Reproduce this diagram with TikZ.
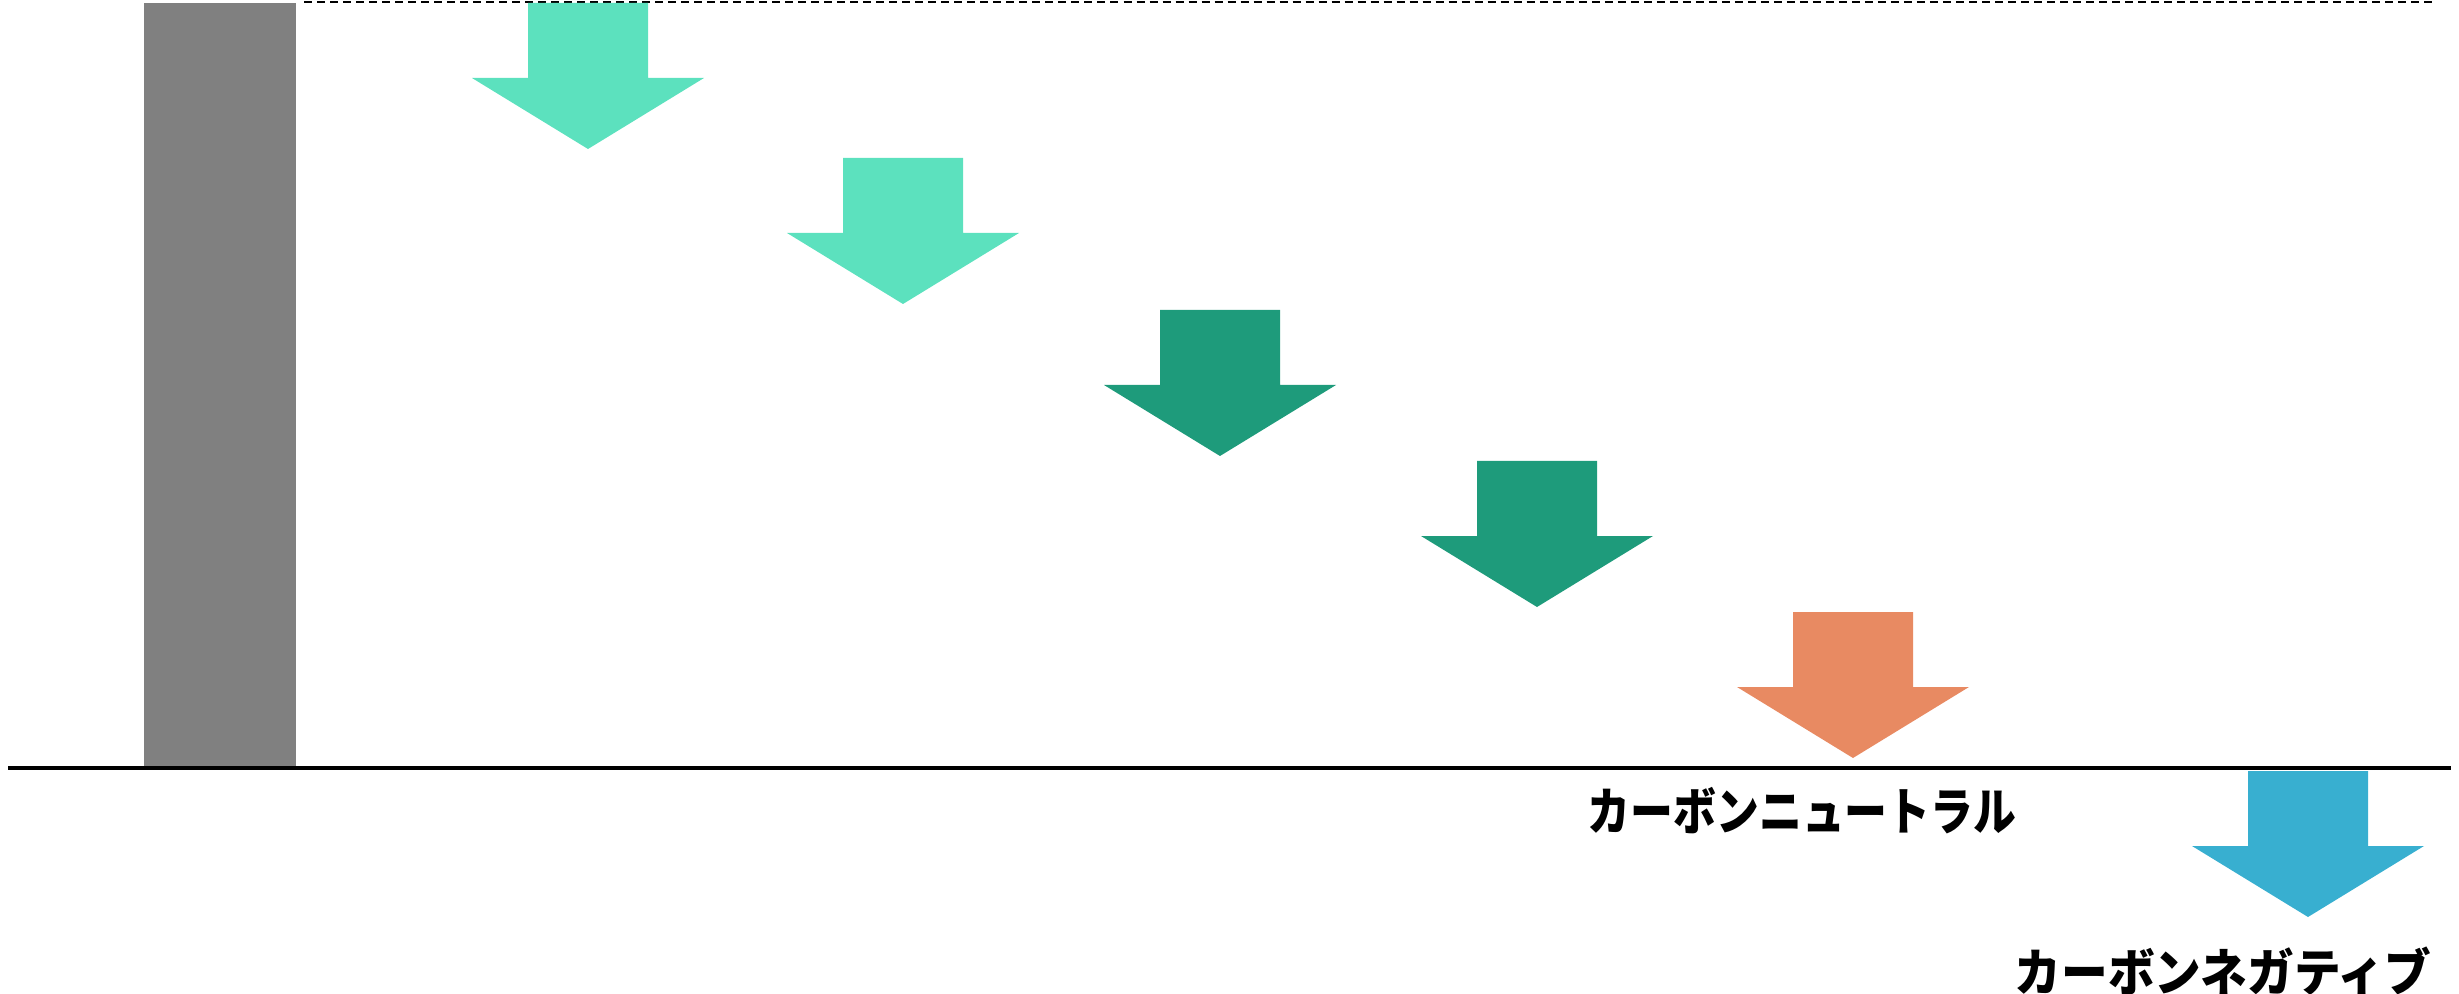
\documentclass[tikz,border=0pt]{standalone}
\usepackage{fontspec}
\newfontfamily\jpfont{Noto Sans CJK JP}
\definecolor{lightgreen}{RGB}{92,225,190}
\definecolor{darkgreen}{RGB}{30,155,123}
\definecolor{orangearrow}{RGB}{232,138,98}
\definecolor{bluearrow}{RGB}{56,175,208}
\definecolor{barfill}{RGB}{128,128,128}
\begin{document}
\begin{tikzpicture}[x=0.01cm,y=-0.01cm,
  label text/.style={font=\jpfont\bfseries\fontsize{14.5}{16}\selectfont, inner sep=0pt, xscale=0.84, transform shape}]
\useasboundingbox (0,0) rectangle (2459,994);
% gray bar
\fill[barfill] (144,3) rectangle (296,768);
% dashed reference line
\coordinate (dl) at (304,2);
\coordinate (dr) at (2434,2);
\draw[line width=0.8pt, dash pattern=on 0.08cm off 0.05cm] (dl) -- (dr);
% arrows
\foreach \cx/\ty/\col in {588/3/lightgreen, 903/158/lightgreen, 1220/310/darkgreen, 1537/461/darkgreen, 1853/612/orangearrow, 2308/771/bluearrow}{
  \fill[\col] (\cx-60,\ty) -- (\cx+60,\ty) -- (\cx+60,\ty+75) -- (\cx+116,\ty+75)
     -- (\cx,\ty+146) -- (\cx-116,\ty+75) -- (\cx-60,\ty+75) -- cycle;
}
% baseline
\coordinate (bl) at (8,768);
\coordinate (br) at (2451,768);
\draw[line width=1.3pt] (bl) -- (br);
% labels
\node[label text] (cn) at (1802,811) {カーボンニュートラル};
\node[label text, xscale=1.09] (cneg) at (2223,972) {カーボンネガティブ};
\end{tikzpicture}
\end{document}
